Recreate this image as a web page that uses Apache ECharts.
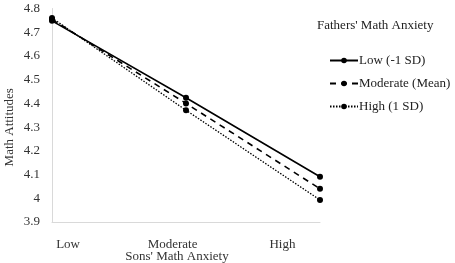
<!DOCTYPE html>
<html><head><meta charset="utf-8">
<script src="https://cdn.jsdelivr.net/npm/echarts@6/dist/echarts.min.js"></script>
<style>html,body{margin:0;padding:0;background:#fff}#c{width:455px;height:263px}</style>
</head><body><div id="c"></div>
<script>
var categories = ["Low", "Moderate", "High"];
var seriesNames = ["Low (-1 SD)", "Moderate (Mean)", "High (1 SD)"];
var lowSD = [4.748, 4.424, 4.091];
var meanSD = [4.754, 4.40, 4.04];
var highSD = [4.76, 4.371, 3.993];
var yTicks = [3.9, 4.8, 0.1];
var xLabelPos = [0.12, 0.9, 1.72];

var font = "Liberation Serif";
function pts(arr){ return arr.map(function(v,i){ return [i, v]; }); }
function mk(name, arr, type, w){
  return { name: name, type: 'line', data: pts(arr), symbol: 'circle', symbolSize: 6,
    itemStyle: {color: '#000'}, lineStyle: {color: '#000', width: w, type: type}, z: 3 };
}
var chart = echarts.init(document.getElementById('c'));
chart.setOption({
  animation: false,
  textStyle: {fontFamily: font},
  title: {text: "Fathers' Math Anxiety", left: 312, top: 14,
    textStyle: {fontFamily: font, fontSize: 13, fontWeight: 'normal', color: '#222'}},
  legend: {orient: 'vertical', left: 329, top: 54, padding: 0, itemWidth: 28, itemHeight: 7, itemGap: 10,
    textStyle: {fontFamily: font, fontSize: 13, color: '#222', padding: [0, 0, 0, -4]},
    data: seriesNames},
  grid: {left: 52, top: 8.5, right: 135, bottom: 41, outerBoundsMode: 'none'},
  xAxis: {type: 'value', min: 0, max: 2,
    axisLine: {lineStyle: {color: '#d9d9d9'}}, axisTick: {show: false}, splitLine: {show: false},
    axisLabel: {customValues: xLabelPos, margin: 16, fontFamily: font, fontSize: 13, color: '#333',
      formatter: function(v){ var i = xLabelPos.indexOf(v); return categories[i]; }},
    name: "Sons' Math Anxiety", nameLocation: 'middle', nameGap: 28, nameMoveOverlap: false,
    nameTextStyle: {fontFamily: font, fontSize: 13, color: '#333', padding: [0, 18, 0, 0]}},
  yAxis: {type: 'value', min: yTicks[0], max: yTicks[1], interval: yTicks[2],
    axisLine: {show: true, lineStyle: {color: '#d9d9d9'}}, axisTick: {show: false}, splitLine: {show: false},
    axisLabel: {margin: 12, fontFamily: font, fontSize: 13, color: '#333',
      formatter: function(v){ return String(Math.round(v*10)/10); }},
    name: "Math Attitudes", nameLocation: 'middle', nameGap: 36, nameRotate: 90, nameMoveOverlap: false,
    nameTextStyle: {fontFamily: font, fontSize: 13, color: '#333', padding: [0, 24, 0, 0]}},
  series: [mk(seriesNames[0], lowSD, 'solid', 1.6), mk(seriesNames[1], meanSD, [6,5], 1.6), mk(seriesNames[2], highSD, [1.5,1.5], 1.3)]
});
</script></body></html>
